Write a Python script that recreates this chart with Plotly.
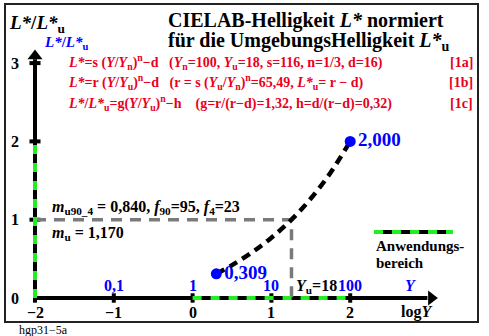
import plotly.graph_objects as go

# log10(Y) sample points along the normalised lightness curve and their L*/L*u values
log_y = [0.301, 0.5, 0.75, 1.0, 1.255, 1.5, 1.75, 2.0]
ratio = [0.309, 0.42, 0.58, 0.77, 1.00, 1.27, 1.60, 2.00]

# end points marked on the curve
end_log_y = [0.301, 2.0]
end_ratio = [0.309, 2.000]
end_labels = ["0,309", "2,000"]

# surround luminance factor and its lightness ratio
y_u_log = 1.255
y_u_ratio = 1.0

# axis ticks
x_ticks = [-2, -1, 0, 1, 2]
x_tick_labels = ["\u22122", "\u22121", "0", "1", "2"]
y_lin_ticks = [-1, 0, 1, 2]
y_lin_labels = ["0,1", "1", "10", "100"]
v_ticks = [0, 1, 2, 3]
v_tick_labels = ["0", "1", "2", "3"]

# range of application (green dashes)
app_x = [0, 2]
app_v = [0, 2]

W, H = 489, 336
PX_PER_X = 78.8
PX_PER_Y = 78.3
X0_PX, Y0_PX = 35, 298
x_range = [-2 - X0_PX / PX_PER_X, -2 + (W - X0_PX) / PX_PER_X]
y_range = [-(H - Y0_PX) / PX_PER_Y, Y0_PX / PX_PER_Y]

SERIF = "Liberation Serif, Times New Roman, serif"
RED = "#e8001c"
BLUE = "#0000ff"
GREEN = "#22ee22"

fig = go.Figure()

# main axes
fig.add_trace(go.Scatter(x=[-2, 2.98], y=[0, 0], mode="lines",
                         line=dict(color="black", width=4), hoverinfo="skip"))
fig.add_trace(go.Scatter(x=[-2, -2], y=[0, 3.05], mode="lines",
                         line=dict(color="black", width=4), hoverinfo="skip"))
# arrow heads
fig.add_trace(go.Scatter(x=[3.03], y=[0], mode="markers",
                         marker=dict(symbol="triangle-right", size=13, color="black"),
                         hoverinfo="skip"))
fig.add_trace(go.Scatter(x=[-2], y=[3.09], mode="markers",
                         marker=dict(symbol="triangle-up", size=13, color="black"),
                         hoverinfo="skip"))

# tick marks
for xv in x_ticks:
    fig.add_trace(go.Scatter(x=[xv, xv], y=[-0.06, 0.06], mode="lines",
                             line=dict(color="black", width=4), hoverinfo="skip"))
for vv in v_ticks[1:]:
    fig.add_trace(go.Scatter(x=[-2.07, -1.93], y=[vv, vv], mode="lines",
                             line=dict(color="black", width=4), hoverinfo="skip"))

# grey reference lines through Yu
fig.add_trace(go.Scatter(x=[-2, y_u_log, y_u_log], y=[y_u_ratio, y_u_ratio, 0],
                         mode="lines", line=dict(color="#7a7a7a", width=3.5, dash="11px,8px"),
                         hoverinfo="skip"))

# range of application
fig.add_trace(go.Scatter(x=app_x, y=[0, 0], mode="lines",
                         line=dict(color=GREEN, width=4, dash="9px,9px"), hoverinfo="skip"))
fig.add_trace(go.Scatter(x=[-2, -2], y=app_v, mode="lines",
                         line=dict(color=GREEN, width=4, dash="9px,9px"), hoverinfo="skip"))

# legend sample for the range of application
lx0 = (374 - X0_PX) / PX_PER_X - 2
lx1 = (453 - X0_PX) / PX_PER_X - 2
ly = (Y0_PX - 232) / PX_PER_Y
fig.add_trace(go.Scatter(x=[lx0, lx1], y=[ly, ly], mode="lines",
                         line=dict(color="black", width=4), hoverinfo="skip"))
fig.add_trace(go.Scatter(x=[lx0, lx1], y=[ly, ly], mode="lines",
                         line=dict(color=GREEN, width=4, dash="9px,9px"), hoverinfo="skip"))

# normalised lightness curve
fig.add_trace(go.Scatter(x=log_y, y=ratio, mode="lines", line_shape="spline",
                         line=dict(color="black", width=4.5, dash="9px,6px"), hoverinfo="skip"))
fig.add_trace(go.Scatter(x=end_log_y, y=end_ratio, mode="markers+text",
                         marker=dict(color=BLUE, size=11),
                         text=[f"<b>{s}</b>" for s in end_labels], textposition="middle right",
                         textfont=dict(family=SERIF, size=19, color=BLUE),
                         hoverinfo="skip"))


def txt(x, y, s, size=13, color="black", xanchor="left", yanchor="middle", bold=True):
    fig.add_annotation(x=x, y=y, xref="paper", yref="paper", text=(f"<b>{s}</b>" if bold else s),
                       showarrow=False, xanchor=xanchor, yanchor=yanchor,
                       font=dict(family=SERIF, size=size, color=color))


def px(x, y):
    return x / W, 1 - y / H


# axis tick labels
for xv, lab in zip(x_ticks, x_tick_labels):
    fig.add_annotation(x=xv, y=-0.19, text=f"<b>{lab}</b>", showarrow=False,
                       font=dict(family=SERIF, size=16, color="black"))
for xv, lab in zip(y_lin_ticks, y_lin_labels):
    fig.add_annotation(x=xv, y=0.16, text=f"<b>{lab}</b>", showarrow=False,
                       font=dict(family=SERIF, size=16, color=BLUE))
for vv, lab in zip(v_ticks, v_tick_labels):
    fig.add_annotation(x=-2.26, y=vv, text=f"<b>{lab}</b>", showarrow=False,
                       font=dict(family=SERIF, size=16, color="black"))

fig.add_annotation(x=2.76, y=0.16, text="<b><i>Y</i></b>", showarrow=False,
                   font=dict(family=SERIF, size=16, color=BLUE))
fig.add_annotation(x=2.84, y=-0.18, text="<b>log<i>Y</i></b>", showarrow=False,
                   font=dict(family=SERIF, size=16, color="black"))
fig.add_annotation(x=1.57, y=0.15, text="<b><i>Y</i><sub>u</sub>=18</b>", showarrow=False,
                   font=dict(family=SERIF, size=16, color="black"))

# axis titles
txt(*px(7, 24), "<i>L*</i>/<i>L*</i><sub>u</sub>", size=19)
txt(*px(42, 43), "<i>L*</i>/<i>L*</i><sub>u</sub>", size=15, color=BLUE)

# title
txt(*px(306, 20), "CIELAB-Helligkeit <i>L*</i> normiert", size=20, xanchor="center")
txt(*px(309, 41), "für die UmgebungsHelligkeit <i>L*</i><sub>u</sub>", size=20, xanchor="center")

# formulas
txt(*px(66, 62), "<i>L*</i>=s (<i>Y</i>/<i>Y</i><sub>n</sub>)<sup>n</sup>\u2212d   "
    "(<i>Y</i><sub>n</sub>=100, <i>Y</i><sub>u</sub>=18, s=116, n=1/3, d=16)", size=14, color=RED)
txt(*px(66, 82), "<i>L*</i>=r (<i>Y</i>/<i>Y</i><sub>u</sub>)<sup>n</sup>\u2212d   "
    "(r = s (<i>Y</i><sub>u</sub>/<i>Y</i><sub>n</sub>)<sup>n</sup>=65,49, "
    "<i>L*</i><sub>u</sub>= r \u2212 d)", size=14, color=RED)
txt(*px(66, 103), "<i>L*</i>/<i>L*</i><sub>u</sub>=g(<i>Y</i>/<i>Y</i><sub>u</sub>)<sup>n</sup>\u2212h    "
    "(g=r/(r\u2212d)=1,32, h=d/(r\u2212d)=0,32)", size=14, color=RED)
txt(*px(475, 62), "[1a]", size=14, color=RED, xanchor="right")
txt(*px(475, 82), "[1b]", size=14, color=RED, xanchor="right")
txt(*px(475, 103), "[1c]", size=14, color=RED, xanchor="right")

# mean factors
txt(*px(50, 207), "<i>m</i><sub>u90_4</sub> = 0,840, <i>f</i><sub>90</sub>=95, <i>f</i><sub>4</sub>=23", size=16)
txt(*px(50, 233), "<i>m</i><sub>u</sub> = 1,170", size=16)

# legend text
txt(*px(374, 246), "Anwendungs-", size=15)
txt(*px(374, 263), "bereich", size=15)

# figure id
txt(*px(17, 330), "hgp31\u22125a", size=12, bold=False)

# frame
fig.add_shape(type="rect", xref="paper", yref="paper",
              x0=5 / W, x1=478 / W, y0=1 - 322 / H, y1=1 - 4 / H,
              line=dict(color="#222222", width=2))

fig.update_layout(
    width=W, height=H, margin=dict(l=0, r=0, t=0, b=0),
    paper_bgcolor="white", plot_bgcolor="white", showlegend=False,
    xaxis=dict(range=x_range, visible=False, fixedrange=True),
    yaxis=dict(range=y_range, visible=False, fixedrange=True),
)

fig.write_html("out.html")
